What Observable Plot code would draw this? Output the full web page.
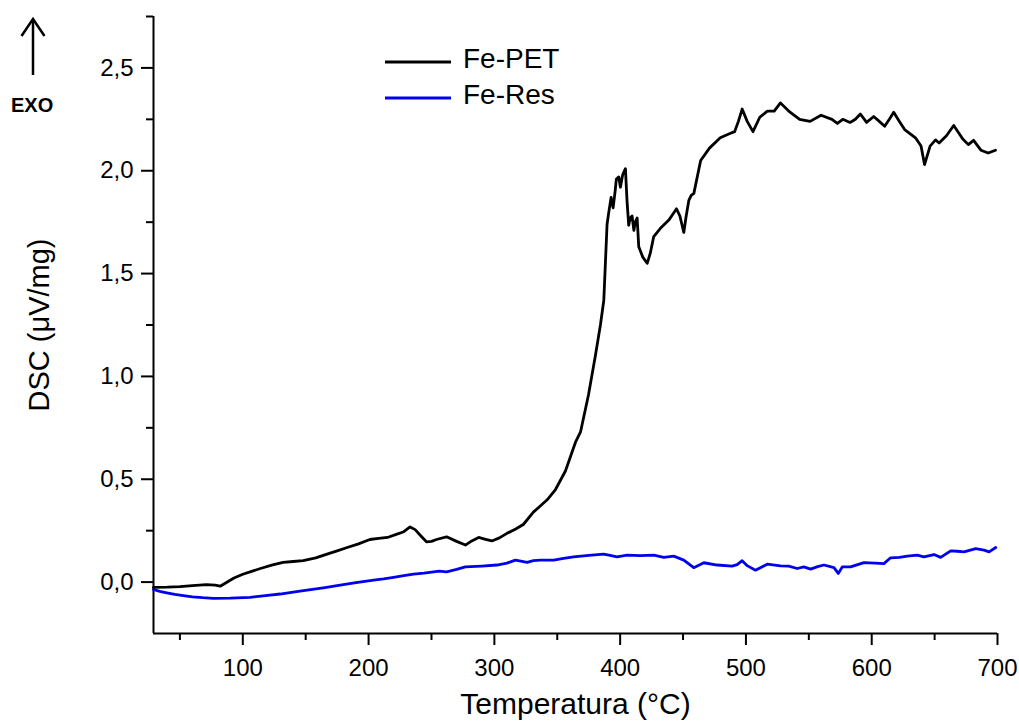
<!DOCTYPE html>
<html><head><meta charset="utf-8">
<script src="https://cdn.jsdelivr.net/npm/d3@7"></script>
<script src="https://cdn.jsdelivr.net/npm/@observablehq/plot@0.6"></script>
<style>
body{margin:0;background:#fff;font-family:"Liberation Sans",Arial,sans-serif;}
#wrap{position:relative;width:1019px;height:728px;overflow:hidden;background:#fff;}
#wrap svg.ov{position:absolute;left:0;top:0;}
</style></head><body><div id="wrap"></div>
<script>
// ---- data ----
const seriesNames = ["Fe-PET", "Fe-Res"];
const xLabel = "Temperatura (°C)";
const yLabel = "DSC (μV/mg)";
const xMajorTicks = [100, 200, 300, 400, 500, 600, 700];
const xMinorTicks = [50, 150, 250, 350, 450, 550, 650];
const yMajorTicks = [0, 0.5, 1.0, 1.5, 2.0, 2.5];
const yMinorTicks = [0.25, 0.75, 1.25, 1.75, 2.25, 2.75];

const petT = [29,40,50,60,71,78,82,87,93,100,107,114,123,132,140,148,158,167,175,183,192,201,208,215,222,228,233,237,242,246,250,254,262,270,277,282,287.5,293,298,304,310,317,323,331,336.5,342,348.6,356.5,364.5,368.5,374.8,380.3,384.3,387,389.6,391,392.8,394.4,396,397,398.9,400.2,402,404.2,405.5,406.8,408,409.5,410.9,412,413.5,414.8,418,421.5,424,426.7,432,438.7,442,444.8,447.5,450.6,452.5,454.6,456.5,458.6,464,471,479.6,486.8,491,494,497,501,505.6,511,517,522.5,527.4,534,542.7,551,559.7,568.4,572.7,577,582.8,587,591,595.9,601.6,606,610.3,614,617.5,622,626.2,634.8,639.2,642,646.4,650.7,653.6,659.4,665.2,672.4,676.8,681,686.8,692.6,698.4];
const petV = [-0.026,-0.025,-0.022,-0.017,-0.012,-0.015,-0.02,-0.002,0.02,0.038,0.052,0.066,0.082,0.096,0.1,0.104,0.118,0.136,0.152,0.168,0.186,0.207,0.212,0.217,0.232,0.245,0.268,0.255,0.222,0.196,0.198,0.207,0.22,0.198,0.18,0.2,0.217,0.208,0.2,0.215,0.237,0.258,0.28,0.34,0.37,0.4,0.45,0.54,0.68,0.73,0.91,1.1,1.25,1.37,1.74,1.8,1.87,1.82,1.9,1.96,1.97,1.92,1.98,2.01,1.85,1.735,1.77,1.78,1.71,1.75,1.77,1.63,1.58,1.55,1.6,1.68,1.72,1.76,1.79,1.815,1.78,1.70,1.78,1.856,1.88,1.89,2.05,2.11,2.16,2.18,2.19,2.24,2.30,2.24,2.19,2.26,2.29,2.29,2.33,2.29,2.25,2.24,2.27,2.25,2.23,2.25,2.235,2.25,2.276,2.235,2.264,2.24,2.216,2.25,2.284,2.24,2.20,2.16,2.12,2.03,2.12,2.15,2.135,2.17,2.22,2.154,2.127,2.148,2.10,2.086,2.10];

const resT = [29,34,39.5,46,52.7,60,68,76.6,90,105.8,118,129.7,140,151,164,177.4,190,204,212,219.8,228,235.7,244,251.7,256,262,270,276.9,290,302,310,316.7,321,326,331,336.6,347.2,355,363,375,386.9,392,397.5,405.5,416,426.7,434.7,442.6,450.6,458.5,466.5,477.1,489,493,497,501,507.6,516.9,527.5,534,540.8,546,551.4,557,562,570,573.4,576.6,583.2,593.8,603,609.7,615,622,628.3,636.2,641.5,649.5,654.8,662.8,668,673.4,682.7,689.3,693.3,698.6];
const resV = [-0.036,-0.045,-0.052,-0.06,-0.066,-0.072,-0.076,-0.079,-0.078,-0.074,-0.066,-0.058,-0.049,-0.039,-0.028,-0.015,-0.003,0.01,0.016,0.023,0.031,0.039,0.044,0.05,0.053,0.05,0.062,0.074,0.078,0.083,0.092,0.107,0.102,0.096,0.104,0.107,0.107,0.115,0.123,0.13,0.136,0.13,0.123,0.131,0.129,0.131,0.12,0.126,0.107,0.07,0.094,0.083,0.078,0.085,0.104,0.08,0.058,0.087,0.079,0.078,0.066,0.074,0.063,0.075,0.083,0.07,0.042,0.074,0.074,0.095,0.092,0.09,0.118,0.12,0.126,0.131,0.123,0.134,0.12,0.152,0.15,0.147,0.163,0.155,0.147,0.168];

const colors = ["#000000", "#0000ee"];
const pet = petT.map((t, i) => ({t, v: petV[i]}));
const res = resT.map((t, i) => ({t, v: resV[i]}));
const FONT = "Liberation Sans, Arial, sans-serif";

const plot = Plot.plot({
  width: 1019, height: 728,
  marginTop: 16, marginLeft: 153, marginRight: 22, marginBottom: 95,
  style: {fontFamily: FONT, background: "#fff", color: "#000", overflow: "visible"},
  x: {domain: [29, 700]},
  y: {domain: [-0.25, 2.75]},
  marks: [
    Plot.axisX(xMajorTicks, {tickSize: 12, tickPadding: 13, fontSize: 24, label: null, stroke: "#000", strokeWidth: 2, tickFormat: d => String(d)}),
    Plot.axisX(xMinorTicks, {tickSize: 7, tickFormat: () => "", label: null, stroke: "#000", strokeWidth: 2}),
    Plot.axisY(yMajorTicks, {tickSize: 12, tickPadding: 8, fontSize: 24, label: null, stroke: "#000", strokeWidth: 2, tickFormat: d => d.toFixed(1).replace(".", ",")}),
    Plot.axisY(yMinorTicks, {tickSize: 7, tickFormat: () => "", label: null, stroke: "#000", strokeWidth: 2}),
    Plot.ruleX([29], {strokeWidth: 2}),
    Plot.ruleY([-0.25], {strokeWidth: 2}),
    Plot.line(res, {x: "t", y: "v", stroke: colors[1], strokeWidth: 2.8}),
    Plot.line(pet, {x: "t", y: "v", stroke: colors[0], strokeWidth: 2.8}),
    Plot.text([xLabel], {text: d => d, frameAnchor: "bottom", dy: 80, fontSize: 30, fill: "#000"})
  ]
});
const wrap = document.getElementById("wrap");
wrap.appendChild(plot);

// overlay: y label, legend and EXO arrow
const ov = d3.select(wrap).append("svg").attr("class", "ov")
  .attr("width", 1019).attr("height", 728).style("font-family", FONT);
ov.append("text").attr("transform", "translate(39,325) rotate(-90)")
  .attr("text-anchor", "middle").attr("dy", "0.35em").attr("font-size", 29).attr("fill", "#000").text(yLabel);
const leg = [{y: 62, base: 67.5}, {y: 98, base: 103.5}];
seriesNames.forEach((name, i) => {
  ov.append("line").attr("x1", 385).attr("x2", 451).attr("y1", leg[i].y).attr("y2", leg[i].y)
    .attr("stroke", colors[i]).attr("stroke-width", 2.8);
  ov.append("text").attr("x", 463).attr("y", leg[i].base)
    .attr("font-size", 28).attr("fill", "#000").text(name);
});
ov.append("line").attr("x1", 33).attr("x2", 33).attr("y1", 19).attr("y2", 75).attr("stroke", "#000").attr("stroke-width", 2.5);
ov.append("path").attr("d", "M21.5,36 L33,19 L44.5,36").attr("fill", "none").attr("stroke", "#000").attr("stroke-width", 2.5);
ov.append("text").attr("x", 11).attr("y", 112).attr("font-size", 20).attr("font-weight", "bold").attr("fill", "#000").text("EXO");
</script></body></html>
